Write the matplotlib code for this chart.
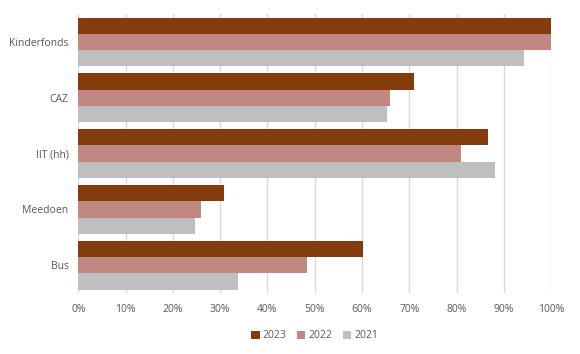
import matplotlib.pyplot as plt
import numpy as np

categories = ['Kinderfonds', 'CAZ', 'IIT (hh)', 'Meedoen', 'Bus']
years = ['2023', '2022', '2021']
v2023 = [100, 71.0, 86.6, 30.7, 60.2]
v2022 = [100, 65.9, 80.9, 25.9, 48.3]
v2021 = [94.2, 65.3, 88.1, 24.6, 33.8]
colors = ['#843C0C', '#C08880', '#BFBFBF']

plt.rcParams['font.family'] = ['Open Sans', 'DejaVu Sans']
txt = '#595959'

fig = plt.figure(figsize=(5.8, 3.54), dpi=100)
ax = fig.add_axes([0.135, 0.172, 0.8155, 0.788])

y = np.arange(len(categories))
h = 0.292
for i, vals in enumerate([v2023, v2022, v2021]):
    ax.barh(y + (i - 1) * h, vals, height=h, color=colors[i], label=years[i], zorder=2)

ax.set_ylim(len(categories) - 0.5, -0.5)
ax.set_xlim(0, 100)
ax.set_xticks(np.arange(0, 101, 10))
ax.set_xticklabels([f'{t}%' for t in range(0, 101, 10)])
ax.set_yticks(y)
ax.set_yticklabels(categories)
ax.grid(axis='x', color='#D9D9D9', linewidth=1, zorder=0)
for s in ax.spines.values():
    s.set_visible(False)
ax.tick_params(axis='both', length=0, labelsize=7.5, colors=txt, pad=8)
ax.tick_params(axis='y', pad=7)

ax.legend(loc='upper center', bbox_to_anchor=(0.5, -0.1), ncol=3, frameon=False,
          fontsize=7.5, labelcolor=txt, handlelength=0.8, handleheight=0.8,
          handletextpad=0.3, columnspacing=1.0)

fig.savefig('out.png', dpi=100)
